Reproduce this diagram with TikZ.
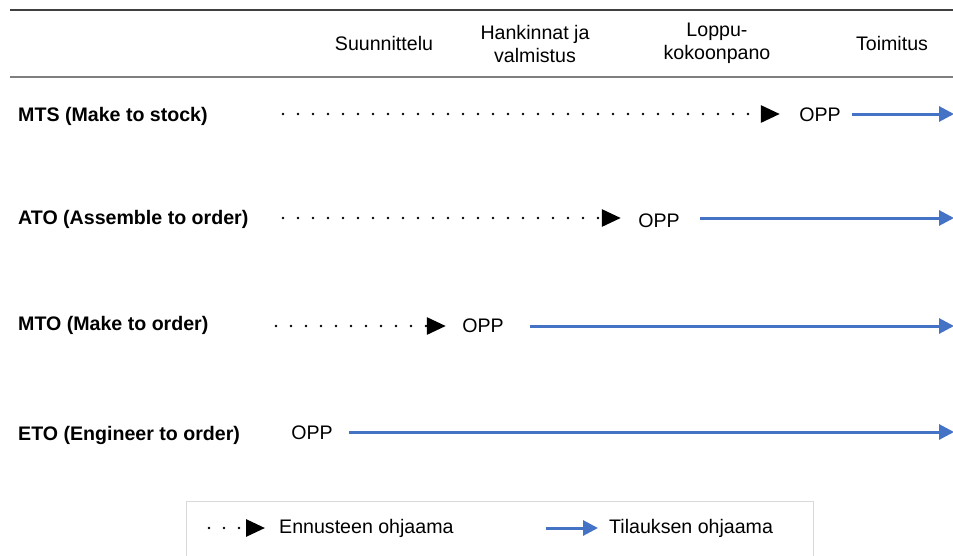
\documentclass[tikz,border=0pt]{standalone}
\usepackage{fontspec}
\setmainfont{Liberation Sans}
\usetikzlibrary{arrows.meta}
\definecolor{ordblue}{HTML}{4472C4}
\definecolor{rulegray}{HTML}{404040}
\definecolor{headgray}{HTML}{7F7F7F}
\definecolor{framegray}{HTML}{D9D9D9}
\begin{document}
\begin{tikzpicture}[x=1pt,y=-1pt,
  txt/.style={inner sep=0pt, font=\fontsize{19.6}{23}\selectfont},
  rowlabel/.style={inner sep=0pt, anchor=west, font=\fontsize{19.6}{23}\selectfont\bfseries},
  phase/.style={txt, align=center},
  forecast/.style={black, line width=2.8pt, line cap=round, dash pattern=on 0pt off 15pt,
                   -{Triangle[length=19pt,width=17pt,line cap=butt]}},
  order/.style={ordblue, line width=3pt, -{Triangle[length=15pt,width=15pt]}},
]
\useasboundingbox (0,0) rectangle (953,555);

% header rules
\coordinate (hl) at (10,10);  \coordinate (hr) at (953,10);
\coordinate (bl) at (10,77);  \coordinate (br) at (953,77);
\draw[rulegray, line width=1.2pt] (hl) -- (hr);
\draw[headgray, line width=2.6pt] (bl) -- (br);

% process phases
\node[phase] (plan) at (384,43)   {Suunnittelu};
\node[phase] (proc) at (535,43.5) {Hankinnat ja\\valmistus};
\node[phase] (assy) at (717,43.5) {Loppu-\\kokoonpano};
\node[phase] (dlv)  at (892,43)   {Toimitus};

% MTS
\node[rowlabel] (mts) at (18,116) {MTS (Make to stock)};
\node[txt] (oppS) at (820,115) {OPP};
\coordinate (mtsF) at (283,114);
\coordinate (mtsE) at (954,114);
\draw[forecast, shorten >=19.3pt] (mtsF) -- (mtsF -| oppS.west);
\draw[order, shorten <=11.3pt] (oppS.east |- mtsE) -- (mtsE);

% ATO
\node[rowlabel] (ato) at (18,219) {ATO (Assemble to order)};
\node[txt] (oppA) at (659,221) {OPP};
\coordinate (atoF) at (283,218);
\coordinate (atoE) at (954,218);
\draw[forecast, shorten >=17.3pt] (atoF) -- (atoF -| oppA.west);
\draw[order, shorten <=20.3pt] (oppA.east |- atoE) -- (atoE);

% MTO
\node[rowlabel] (mto) at (18,325) {MTO (Make to order)};
\node[txt] (oppM) at (483,326) {OPP};
\coordinate (mtoF) at (276,326);
\coordinate (mtoE) at (954,326);
\draw[forecast, shorten >=16.3pt] (mtoF) -- (mtoF -| oppM.west);
\draw[order, shorten <=26.3pt] (oppM.east |- mtoE) -- (mtoE);

% ETO
\node[rowlabel] (eto) at (18,435) {ETO (Engineer to order)};
\node[txt] (oppE) at (312,433) {OPP};
\coordinate (etoE) at (954,432);
\draw[order, shorten <=16.3pt] (oppE.east |- etoE) -- (etoE);

% legend
\coordinate (fbl) at (186,556); \coordinate (ftl) at (186,501);
\coordinate (ftr) at (813,501); \coordinate (fbr) at (813,556);
\draw[framegray, line width=1pt] (fbl) -- (ftl) -- (ftr) -- (fbr);
\node[txt, anchor=west] (lgFt) at (279,528) {Ennusteen ohjaama};
\coordinate (lgF) at (209,528);
\draw[forecast, shorten >=14pt] (lgF) -- (lgFt.west |- lgF);
\node[txt, anchor=west] (lgOt) at (609,528) {Tilauksen ohjaama};
\coordinate (lgO) at (546,528);
\draw[order, shorten >=11pt] (lgO) -- (lgOt.west |- lgO);
\end{tikzpicture}
\end{document}
